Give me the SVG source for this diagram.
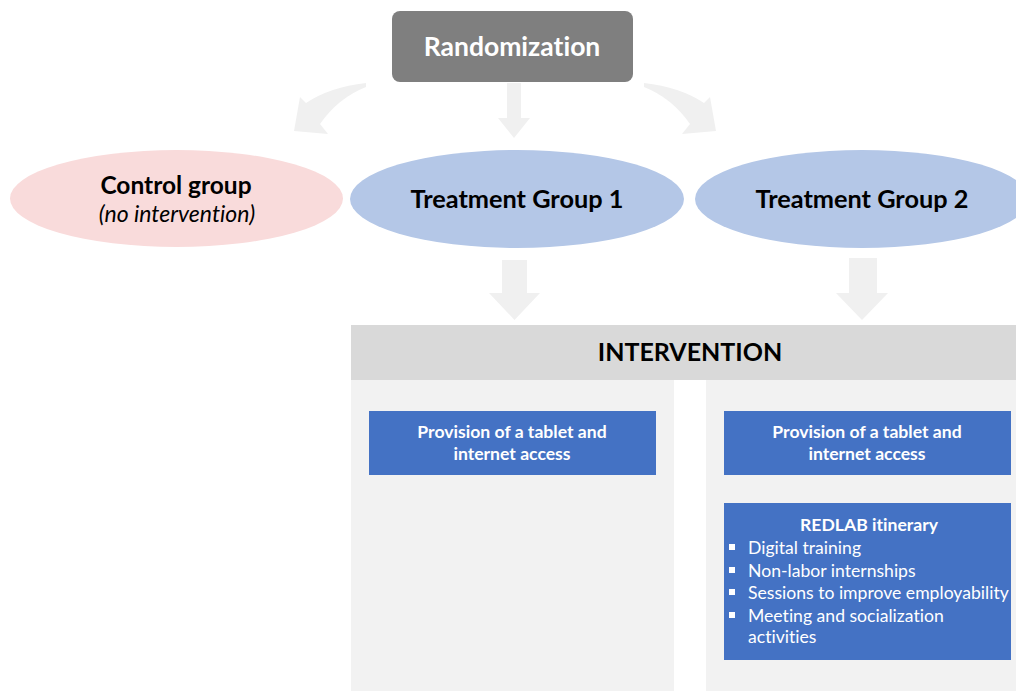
<svg xmlns="http://www.w3.org/2000/svg" width="1016" height="691" viewBox="0 0 1016 691">
<style>
text{font-family:Lato,"Open Sans","Liberation Sans",sans-serif;text-anchor:middle;font-variant-ligatures:none;font-feature-settings:"liga" 0}
.h{font-weight:bold;fill:#000}
.w{fill:#fff;font-weight:bold;font-size:17.6px}
.li{fill:#fff;font-size:17.6px;text-anchor:start}
.arrow{fill:#f0f0f0}
.blue{fill:#4472c4}
.panel{fill:#f2f2f2}
</style>
<rect width="1016" height="691" fill="#fff"/>
<g id="panels">
<rect class="panel" x="351" y="380" width="323" height="311"/>
<rect class="panel" x="706" y="380" width="310" height="311"/>
</g>
<g id="connectors">
<path class="arrow" d="M366,83 Q330,87 306,103 L300,97 L294,131 L328,134 L320,124 Q338,98 366,87 Z"/>
<path class="arrow" d="M644,83 Q680,87 704,103 L710,97 L716,131 L682,134 L690,124 Q672,98 644,87 Z"/>
<path class="arrow" d="M507,83 L521,83 L521,118 L530,118 L514,138 L498,118 L507,118 Z"/>
<path class="arrow" d="M502,260 L527,260 L527,293 L540,293 L514.5,320 L489,293 L502,293 Z"/>
<path class="arrow" d="M849,258 L877,258 L877,293 L888,293 L862,320 L836,293 L849,293 Z"/>
</g>
<g id="randomization">
<rect x="392" y="11" width="241" height="71" rx="8" fill="#7f7f7f"/>
<text x="512" y="56" style="font-size:26.5px;font-weight:bold;fill:#fff">Randomization</text>
</g>
<g id="control">
<ellipse cx="176.5" cy="198.5" rx="166.5" ry="48.5" fill="#f9dbdb"/>
<text class="h" x="176" y="194" style="font-size:24.5px">Control group</text>
<text x="177" y="222" style="font-size:23px;font-style:italic;fill:#000">(no intervention)</text>
</g>
<g id="tg1">
<ellipse cx="517" cy="199" rx="167" ry="49" fill="#b4c7e7"/>
<text class="h" x="517" y="208" style="font-size:25.3px">Treatment Group 1</text>
</g>
<g id="tg2">
<ellipse cx="862" cy="199" rx="167" ry="49" fill="#b4c7e7"/>
<text class="h" x="862" y="208" style="font-size:25.3px">Treatment Group 2</text>
</g>
<g id="intervention">
<rect x="351" y="325" width="665" height="55" fill="#d9d9d9"/>
<text x="690" y="361" style="font-size:25px;font-weight:bold;fill:#000">INTERVENTION</text>
</g>
<g id="tablet1">
<rect class="blue" x="369" y="411" width="287" height="64"/>
<text class="w" x="512" y="438">Provision of a tablet and</text>
<text class="w" x="512" y="460">internet access</text>
</g>
<g id="tablet2">
<rect class="blue" x="724" y="411" width="287" height="64"/>
<text class="w" x="867" y="438">Provision of a tablet and</text>
<text class="w" x="867" y="460">internet access</text>
</g>
<g id="redlab">
<rect class="blue" x="724" y="503" width="287" height="157"/>
<text class="w" x="869" y="531">REDLAB itinerary</text>
<rect x="729" y="544" width="6" height="6" fill="#fff"/>
<rect x="729" y="567" width="6" height="6" fill="#fff"/>
<rect x="729" y="589" width="6" height="6" fill="#fff"/>
<rect x="729" y="612" width="6" height="6" fill="#fff"/>
<text class="li" x="748" y="554">Digital training</text>
<text class="li" x="748" y="577">Non-labor internships</text>
<text class="li" x="748" y="599">Sessions to improve employability</text>
<text class="li" x="748" y="622">Meeting and socialization</text>
<text class="li" x="748" y="643">activities</text>
</g>
</svg>
